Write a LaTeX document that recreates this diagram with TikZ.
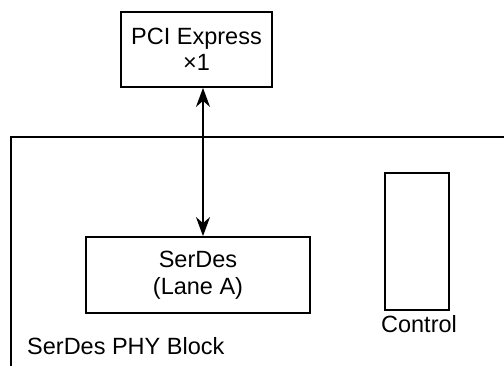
\documentclass[tikz,border=0pt]{standalone}
\usepackage{fontspec}
\setmainfont{Liberation Sans}
\usetikzlibrary{arrows.meta}
\begin{document}
\begin{tikzpicture}[x=1pt,y=-1pt,
  every node/.style={font=\fontsize{23.5pt}{26.5pt}\selectfont, inner sep=0pt},
  blk/.style={draw, line width=1.8pt, align=center},
  lbl/.style={},
  conn/.style={line width=1.6pt, {Stealth[length=19pt,width=14pt,inset=6pt]}-{Stealth[length=19pt,width=14pt,inset=6pt]}}]
\useasboundingbox (0,0) rectangle (504,366);
\clip (0,0) rectangle (504,366);
\fill[white] (0,0) rectangle (504,366);
% outer block (cut off at right and bottom)
\draw[line width=1.8pt] (515,137) -- (11,137) -- (11,375);
\node[blk, minimum width=151pt, minimum height=75pt] (pci) at (196.5,49.5) {PCI Express\\×1};
\node[blk, minimum width=224pt, minimum height=76pt] (serdes) at (198,275) {SerDes\\(Lane A)};
\node[blk, minimum width=64pt, minimum height=137pt] (ctrl) at (417,241.5) {};
\node[lbl, anchor=base] (ctrllbl) at (419,333) {Control};
\node[lbl, anchor=base west] (phylbl) at (27,355) {SerDes PHY Block};
\coordinate (ax) at (203,0);
\draw[conn] (pci.south -| ax) -- (serdes.north -| ax);
\end{tikzpicture}
\end{document}
